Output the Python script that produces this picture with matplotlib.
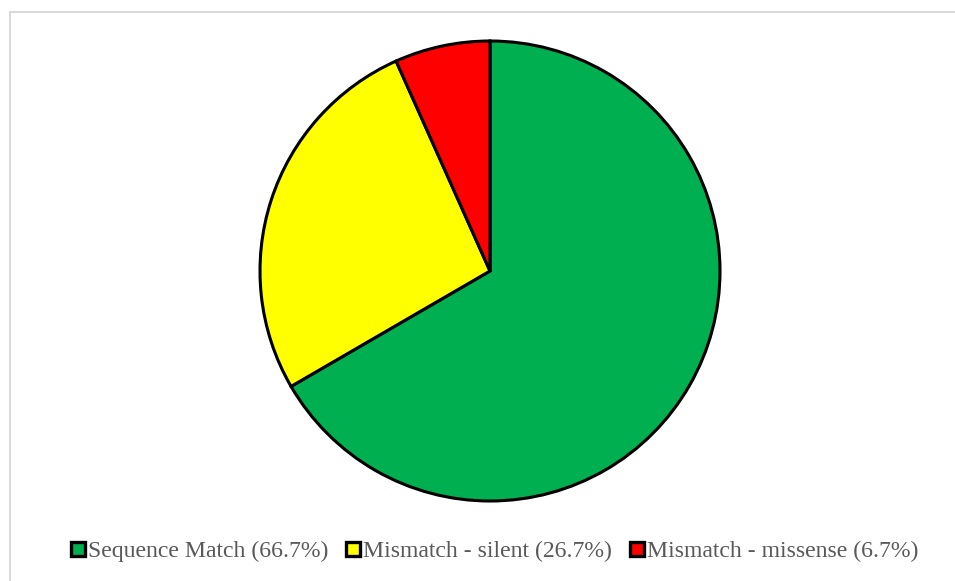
import matplotlib
matplotlib.use("Agg")
import matplotlib.pyplot as plt
from matplotlib.patches import Rectangle
from matplotlib.lines import Line2D

categories = ["Sequence Match", "Mismatch - silent", "Mismatch - missense"]
percent = [66.7, 26.7, 6.7]
colors = ["#00B050", "#FFFF00", "#FF0000"]

W, H = 955, 581
fig = plt.figure(figsize=(W / 100, H / 100), dpi=100)
plt.rcParams['font.family'] = ['Liberation Serif', 'DejaVu Serif']

# chart area border (right/bottom outside the image)
fig.patches.append(Rectangle((10 / W, -0.05), 1.0, (H - 12.5) / H + 0.05,
                             transform=fig.transFigure, fill=False,
                             edgecolor="#D9D9D9", linewidth=1.5))

cx, cy, r = 490, 271, 230
ax = fig.add_axes([(cx - r) / W, 1 - (cy + r) / H, 2 * r / W, 2 * r / H])
ax.pie(percent, colors=colors, startangle=90, counterclock=False,
       wedgeprops=dict(edgecolor="black", linewidth=2.2))
ax.set_aspect("equal")
ax.set_xlim(-1, 1)
ax.set_ylim(-1, 1)
ax.axis("off")

handles = [Line2D([], [], marker="s", linestyle="none", markersize=10.5,
                  markerfacecolor=c, markeredgecolor="black", markeredgewidth=2.4)
           for c in colors]
labels = [f"{c} ({p}%)" for c, p in zip(categories, percent)]
leg = fig.legend(handles, labels, loc="center", bbox_to_anchor=(494 / W, 1 - 551 / H),
                 ncol=3, frameon=False, fontsize=17.1, handlelength=0.7,
                 handletextpad=0.08, columnspacing=0.7)
for t in leg.get_texts():
    t.set_color("#595959")

fig.savefig("out.png", dpi=100)
